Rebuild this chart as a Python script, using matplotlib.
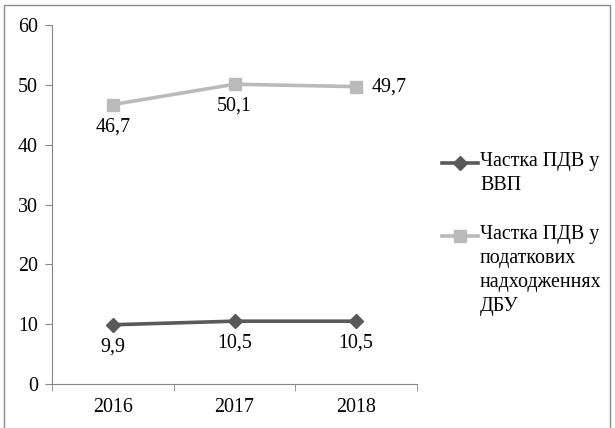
import numpy as np
import matplotlib.pyplot as plt
from matplotlib.patches import Rectangle
from matplotlib.lines import Line2D

plt.rcParams['font.family'] = ['Liberation Serif', 'DejaVu Serif']

# Data
years = ['2016', '2017', '2018']
vat_gdp = [9.9, 10.5, 10.5]
vat_budget = [46.7, 50.1, 49.7]
vat_gdp_labels = ['9,9', '10,5', '10,5']
vat_budget_labels = ['46,7', '50,1', '49,7']
series_names = ['Частка ПДВ у\nВВП', 'Частка ПДВ у\nподаткових\nнадходженнях\nДБУ']

W, H = 615, 428
fs = 14.4
fig = plt.figure(figsize=(W / 100, H / 100), dpi=100)
ax = fig.add_axes([52 / W, 1 - 384 / H, (417 - 52) / W, (384 - 25) / H])

# outer chart border
fig.patches.append(Rectangle((4 / W, -0.05), 606 / W, 1.05 - 5 / H,
                             transform=fig.transFigure, fill=False,
                             edgecolor='#8c8c8c', linewidth=1))

x = np.arange(len(years))
dark = '#595959'
light = '#bababa'
styles = [dict(color=dark, linewidth=2.6, marker='D', markersize=7),
          dict(color=light, linewidth=2.6, marker='s', markersize=8)]

ax.plot(x, vat_gdp, **styles[0])
ax.plot(x, vat_budget, **styles[1])

for xi, v, t in zip(x, vat_gdp, vat_gdp_labels):
    ax.annotate(t, (xi, v), xytext=(0, -16), textcoords='offset points',
                ha='center', va='center', fontsize=fs)
for i, (xi, v, t) in enumerate(zip(x, vat_budget, vat_budget_labels)):
    if i == len(x) - 1:
        ax.annotate(t, (xi, v), xytext=(11, 0), textcoords='offset points',
                    ha='left', va='center', fontsize=fs)
    else:
        ax.annotate(t, (xi, v), xytext=(0, -16), textcoords='offset points',
                    ha='center', va='center', fontsize=fs)

ax.set_xlim(-0.5, 2.5)
ax.set_ylim(0, 60)
ax.set_yticks(range(0, 61, 10))
ax.set_xticks(x)
ax.set_xticklabels(years)
ax.set_xticks([-0.5, 0.5, 1.5, 2.5], minor=True)
ax.tick_params(axis='x', which='major', length=0, pad=10, labelsize=fs)
ax.tick_params(axis='x', which='minor', length=5, color='#868686')
ax.tick_params(axis='y', length=5, color='#868686', labelsize=fs, pad=5)

for s in ['top', 'right']:
    ax.spines[s].set_visible(False)
for s in ['left', 'bottom']:
    ax.spines[s].set_color('#868686')

# legend, handle aligned with the first text line
legend_y = [163, 236]
for name, st, ly in zip(series_names, styles, legend_y):
    yf = 1 - ly / H
    fig.add_artist(Line2D([442 / W, 478 / W], [yf, yf], transform=fig.transFigure,
                          color=st['color'], linewidth=st['linewidth']))
    fig.add_artist(Line2D([460 / W], [yf], transform=fig.transFigure,
                          color=st['color'], marker=st['marker'],
                          markersize=st['markersize']))
    fig.text(480 / W, yf + 11 / H, name, ha='left', va='top', fontsize=fs,
             linespacing=1.35)

fig.savefig('out.png', dpi=100)
